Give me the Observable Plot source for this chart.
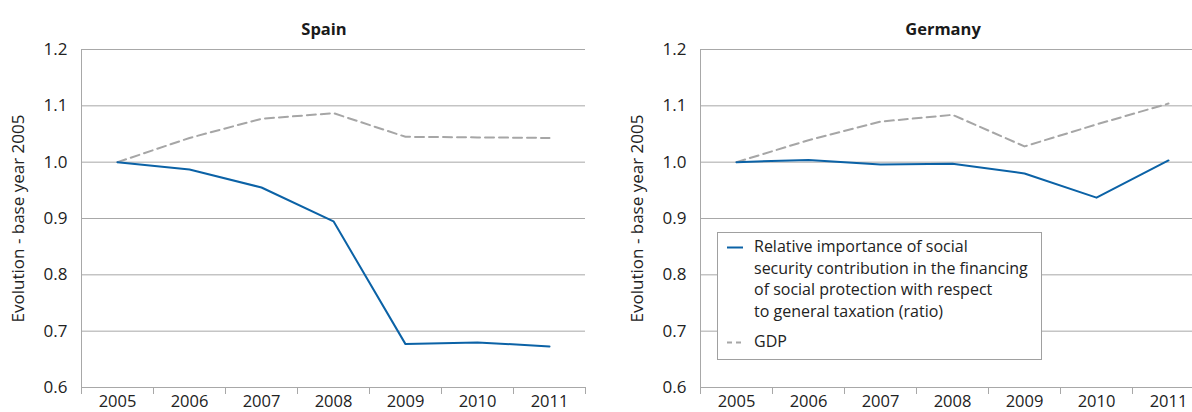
<!DOCTYPE html>
<html>
<head>
<meta charset="utf-8">
<script src="https://cdn.jsdelivr.net/npm/d3@7"></script>
<script src="https://cdn.jsdelivr.net/npm/@observablehq/plot@0.6"></script>
<style>
  html, body { margin: 0; padding: 0; background: #fff; overflow: hidden; }
  #wrap { position: relative; width: 1192px; height: 412px; overflow: hidden; font-family: "Open Sans", sans-serif; }
  .panel { position: absolute; top: 0; }
  .panel svg { max-width: none !important; display: block; }
  #legend { position: absolute; left: 717px; top: 232px; width: 323px; height: 126px; border: 1px solid #a0a0a0; background: #fff;
            font-size: 16px; color: #222; line-height: 21.7px; }
  .entry { position: absolute; left: 36px; white-space: nowrap; }
  .sw { position: absolute; left: -27px; width: 16px; height: 3px; }
</style>
</head>
<body>
<div id="wrap">
  <div id="spain" class="panel" style="left:0px;width:600px"></div>
  <div id="germany" class="panel" style="left:600px;width:620px"></div>
  <div id="legend"></div>
</div>
<script>
const years = [2005, 2006, 2007, 2008, 2009, 2010, 2011];
const yTicks = [0.6, 0.7, 0.8, 0.9, 1.0, 1.1, 1.2];
const countries = ["Spain", "Germany"];
const seriesNames = [
  "Relative importance of social security contribution in the financing of social protection with respect to general taxation (ratio)",
  "GDP"
];
const legendLines = [
  ["Relative importance of social", "security contribution in the financing", "of social protection with respect", "to general taxation (ratio)"],
  ["GDP"]
];
const yLabel = "Evolution - base year 2005";

const spainRatio = [1.000, 0.987, 0.955, 0.895, 0.677, 0.680, 0.673];
const spainGDP   = [1.000, 1.043, 1.077, 1.087, 1.045, 1.044, 1.043];
const germanyRatio = [1.000, 1.004, 0.996, 0.997, 0.980, 0.937, 1.003];
const germanyGDP   = [1.000, 1.039, 1.072, 1.084, 1.028, 1.067, 1.104];

const blue = "#0b62a6";
const grey = "#a6a6a6";
const gridColor = "#a8a8a8";

function toRows(vals) { return years.map((y, i) => ({year: y, value: vals[i]})); }

function panel(title, ratio, gdp, marginLeft, width) {
  const bounds = [years[0] - 0.5, ...years.map(y => y + 0.5)];
  return Plot.plot({
    width, height: 412,
    marginTop: 49, marginBottom: 25, marginLeft, marginRight: width - marginLeft - 504,
    style: {fontFamily: "Open Sans, sans-serif", fontSize: "16.5px", color: "#222", background: "#fff"},
    x: {type: "linear", domain: [years[0] - 0.5, years[years.length - 1] + 0.5]},
    y: {domain: [0.6, 1.2]},
    marks: [
      Plot.gridY(yTicks, {stroke: gridColor, strokeOpacity: 1, strokeWidth: 1}),
      Plot.ruleX([bounds[0]], {stroke: gridColor, strokeWidth: 1}),
      Plot.ruleY([yTicks[0]], {stroke: gridColor, strokeWidth: 1}),
      Plot.axisY(yTicks, {tickSize: 0, tickPadding: 14, tickFormat: d3.format(".1f"), fontSize: 17, fill: "#222",
        label: yLabel, labelAnchor: "center", labelOffset: 70, labelArrow: "none"}),
      Plot.axisX(bounds, {tickSize: 7, tickFormat: () => "", stroke: gridColor, label: null}),
      Plot.axisX(years, {tickSize: 0, tickPadding: 8, tickFormat: d => String(d), fontSize: 16.5, fill: "#222", label: null}),
      Plot.line(toRows(gdp), {x: "year", y: "value", stroke: grey, strokeWidth: 2, strokeDasharray: "9,5"}),
      Plot.line(toRows(ratio), {x: "year", y: "value", stroke: blue, strokeWidth: 2}),
      Plot.text([title], {frameAnchor: "top", dy: -26, dx: -9.5, text: d => d, fontWeight: "bold", fontSize: 16.5, fill: "#1a1a1a"})
    ]
  });
}

document.getElementById("spain").appendChild(panel(countries[0], spainRatio, spainGDP, 81, 600));
document.getElementById("germany").appendChild(panel(countries[1], germanyRatio, germanyGDP, 100, 620));

// Legend
const legend = document.getElementById("legend");
const swatches = [
  `<svg class="sw" style="top:10px;height:3px" width="16" height="3"><line x1="0" x2="16" y1="1.5" y2="1.5" stroke="${blue}" stroke-width="2"/></svg>`,
  `<svg class="sw" style="top:10px;height:3px" width="16" height="3"><line x1="0" x2="16" y1="1.5" y2="1.5" stroke="${grey}" stroke-width="2" stroke-dasharray="5,4"/></svg>`
];
const tops = [3, 98];
legendLines.forEach((lines, i) => {
  const e = document.createElement("div");
  e.className = "entry";
  e.style.top = tops[i] + "px";
  e.title = seriesNames[i];
  e.innerHTML = swatches[i] + lines.join("<br>");
  legend.appendChild(e);
});
</script>
</body>
</html>
